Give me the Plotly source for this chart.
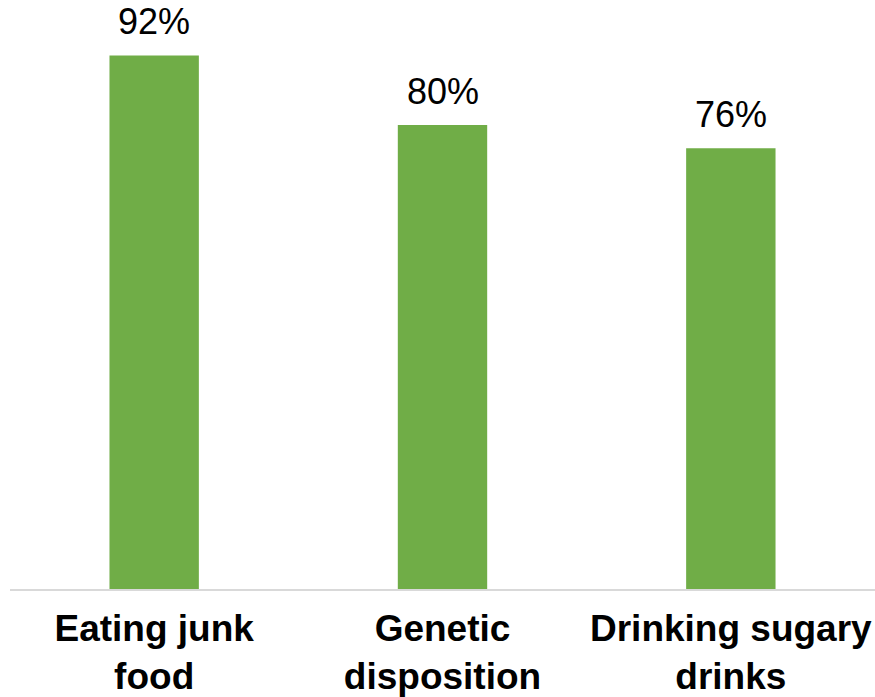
import plotly.graph_objects as go

categories = ["Eating junk<br>food", "Genetic<br>disposition", "Drinking sugary<br>drinks"]
values = [92, 80, 76]
value_labels = [f"{v}%" for v in values]

BAR_COLOR = "#70AD47"
FONT = "Liberation Sans, Arial, sans-serif"

fig = go.Figure(
    go.Bar(
        x=categories,
        y=values,
        marker=dict(color=BAR_COLOR, line=dict(width=0)),
        hoverinfo="skip",
    )
)

# value labels above each bar
for cat, v, lab in zip(categories, values, value_labels):
    fig.add_annotation(
        x=cat, y=v, text=lab, showarrow=False,
        yanchor="bottom", yshift=11,
        font=dict(family=FONT, size=36, color="#000000"),
    )

fig.update_layout(
    width=875, height=697,
    margin=dict(l=10, r=0, t=9, b=106),
    paper_bgcolor="white", plot_bgcolor="white",
    bargap=0.69,
    showlegend=False,
    font=dict(family=FONT, color="#000000"),
)
fig.update_xaxes(
    showline=True, linecolor="#D9D9D9", linewidth=1.5,
    showgrid=False, ticks="",
    ticklabelstandoff=6,
    tickfont=dict(family=FONT, size=37, color="#000000", weight="bold"),
)
fig.update_yaxes(
    range=[0, 100], visible=False, showgrid=False, zeroline=False,
)

fig.write_html("out.html")
